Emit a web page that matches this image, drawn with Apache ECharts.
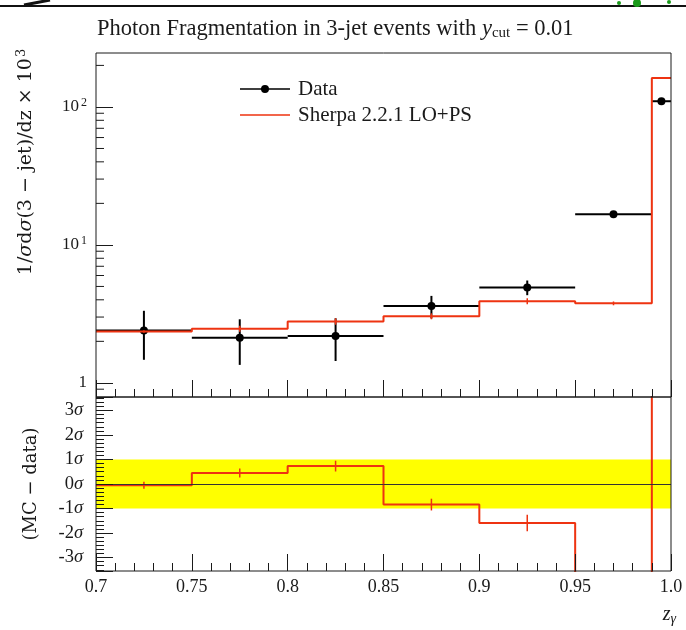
<!DOCTYPE html>
<html lang="en">
<head>
    <meta charset="UTF-8">
    <script src="https://cdn.jsdelivr.net/npm/echarts@6/dist/echarts.min.js"></script>
    <title>Photon Fragmentation</title>
    <style>
        html, body { margin: 0; padding: 0; background: #fff; }
        #container { width: 686px; height: 630px; }
    </style>
</head>
<body>
<div id="container"></div>
<script type="application/javascript">
    // bins in z_gamma
    const binLo = [0.7, 0.75, 0.8, 0.85, 0.9, 0.95, 0.99];
    const binHi = [0.75, 0.8, 0.85, 0.9, 0.95, 0.99, 1.0];
    // data points
    const dataVal = [2.40, 2.12, 2.19, 3.60, 4.92, 16.7, 110];
    const dataErr = [0.93, 0.77, 0.75, 0.67, 0.60, 0.7, 3];
    // Sherpa 2.2.1 LO+PS
    const mcVal = [2.36, 2.47, 2.79, 3.04, 3.91, 3.77, 162];
    const mcErr = [0.05, 0.12, 0.15, 0.15, 0.2, 0.12, 2];
    // (MC - data) in units of sigma, last two are off scale
    const ratioVal = [-0.05, 0.45, 0.73, -0.84, -1.59, -12, 13];
    const ratioErr = [0.14, 0.18, 0.22, 0.24, 0.34, 0, 0];
    // minor ticks of the log axis
    const logMinor = [0.9, 2, 3, 4, 5, 6, 7, 8, 9, 20, 30, 40, 50, 60, 70, 80, 90, 200];

    const xMin = 0.7, xMax = 1.0;
    const red = '#ee3311';
    const ink = '#1a1a1a';
    const serif = 'Liberation Serif';

    const centers = binLo.map((lo, i) => (lo + binHi[i]) / 2);
    const mcStep = binLo.map((lo, i) => [lo, mcVal[i]]).concat([[xMax, mcVal[mcVal.length - 1]]]);
    const ratioStep = binLo.map((lo, i) => [lo, ratioVal[i]]).concat([[xMax, ratioVal[ratioVal.length - 1]]]);
    const dataPts = centers.map((c, i) => [c, dataVal[i], binLo[i], binHi[i], dataErr[i]]);
    const mcTicks = centers.map((c, i) => [c, mcVal[i], mcErr[i]]);
    const ratioTicks = centers.map((c, i) => [c, ratioVal[i], ratioErr[i]]);

    const myChart = echarts.init(document.getElementById('container'), null, {renderer: 'canvas'});

    function vLine(api, x, y0, y1, color, w) {
        const a = api.coord([x, y0]);
        const b = api.coord([x, y1]);
        return {type: 'line', shape: {x1: a[0], y1: a[1], x2: b[0], y2: b[1]}, style: {stroke: color, lineWidth: w}};
    }

    const xAxisBase = {
        type: 'value', min: xMin, max: xMax, interval: 0.05, z: 5,
        axisLine: {show: false, onZero: false},
        axisTick: {inside: true, length: 17, lineStyle: {color: ink}},
        minorTick: {show: true, splitNumber: 5, length: 8, lineStyle: {color: ink}},
        splitLine: {show: false}
    };

    const option = {
        animation: false,
        textStyle: {fontFamily: serif},
        title: {
            text: 'Photon Fragmentation in 3-jet events with {i|y}{sub|cut} = 0.01',
            left: 92, top: 12,
            textStyle: {
                fontFamily: serif, fontSize: 22.5, fontWeight: 'normal', color: ink,
                rich: {
                    i: {fontFamily: serif, fontSize: 22.5, fontStyle: 'italic', color: ink},
                    sub: {fontFamily: serif, fontSize: 15, color: ink, padding: [9, 0, 0, 0]}
                }
            }
        },
        legend: {
            orient: 'vertical', left: 235, top: 73, itemGap: 4,
            itemWidth: 50, itemHeight: 8,
            textStyle: {fontFamily: serif, fontSize: 21, color: ink, lineHeight: 22, padding: [0, 0, 0, 3]},
            data: [
                {name: 'Data', icon: 'path://M0,3.2H50V4.8H0Z M21,4A4,4 0 1 1 29,4A4,4 0 1 1 21,4Z', itemStyle: {color: '#000'}},
                {name: 'Sherpa 2.2.1 LO+PS', icon: 'path://M0,3.25H50V4.75H0Z M0,0h0.01v0.01h-0.01z M50,8h-0.01v-0.01h0.01z', itemStyle: {color: red}}
            ]
        },
        grid: [
            {left: 96, right: 15, top: 53, height: 344, show: true, borderColor: ink, borderWidth: 1, z: 10, backgroundColor: 'transparent'},
            {left: 96, right: 15, top: 397, height: 174, show: true, borderColor: ink, borderWidth: 1, z: 10, backgroundColor: 'transparent'}
        ],
        xAxis: [
            Object.assign({}, xAxisBase, {gridIndex: 0, axisLabel: {show: false}}),
            Object.assign({}, xAxisBase, {
                gridIndex: 1,
                axisLabel: {
                    margin: 7, fontSize: 18, color: ink, fontFamily: serif,
                    formatter: v => (v === 1 ? '1.0' : String(v))
                }
            })
        ],
        yAxis: [
            {
                type: 'log', gridIndex: 0, min: 0.79, max: 246, z: 5,
                axisLine: {show: false, onZero: false},
                axisTick: {inside: true, length: 17, lineStyle: {color: ink}},
                splitLine: {show: false},
                axisLabel: {
                    margin: 9, color: ink, fontSize: 17, fontFamily: serif,
                    showMinLabel: false, showMaxLabel: false,
                    formatter: v => {
                        const e = Math.round(Math.log10(v));
                        return e === 0 ? '1' : '10{sup|' + e + '}';
                    },
                    rich: {sup: {fontSize: 12, fontFamily: serif, color: ink, verticalAlign: 'top', padding: [0, 0, 8, 2]}}
                }
            },
            {
                type: 'value', gridIndex: 1, min: -3.55, max: 3.55, z: 5,
                axisLine: {show: false, onZero: false},
                axisTick: {inside: true, length: 17, lineStyle: {color: ink}},
                minorTick: {show: true, splitNumber: 6, length: 8, lineStyle: {color: ink}},
                splitLine: {show: false},
                axisLabel: {
                    margin: 13, color: ink, fontSize: 18.5, fontFamily: serif,
                    showMinLabel: false, showMaxLabel: false,
                    formatter: v => v + '{s|σ}',
                    rich: {s: {fontSize: 18.5, fontStyle: 'italic', fontFamily: serif, color: ink}}
                }
            }
        ],
        graphic: [
            {type: 'line', shape: {x1: 0, y1: 6, x2: 686, y2: 6}, style: {stroke: '#111', lineWidth: 2}},
            {type: 'line', shape: {x1: 24, y1: 5, x2: 50, y2: 0}, style: {stroke: '#111', lineWidth: 3}},
            {type: 'circle', shape: {cx: 619, cy: 3, r: 2}, style: {fill: '#1a9a1a'}},
            {type: 'circle', shape: {cx: 637, cy: 3, r: 4}, style: {fill: '#1a9a1a'}},
            {type: 'circle', shape: {cx: 669, cy: 2, r: 2}, style: {fill: '#1a9a1a'}},
            {
                type: 'text', x: 26, y: 162, rotation: Math.PI / 2,
                style: {
                    text: '1/{i|σ}d{i|σ}(3 − jet)/dz × 10{sup|3}',
                    fontFamily: 'DejaVu Serif', fontSize: 19, fill: ink, align: 'center', verticalAlign: 'middle',
                    rich: {
                        i: {fontFamily: 'DejaVu Serif', fontSize: 19, fontStyle: 'italic', fill: ink},
                        sup: {fontFamily: 'DejaVu Serif', fontSize: 13, fill: ink, padding: [0, 0, 9, 1]}
                    }
                }
            },
            {
                type: 'text', x: 31, y: 484, rotation: Math.PI / 2,
                style: {
                    text: '(MC − data)', fontFamily: 'DejaVu Serif', fontSize: 18, fill: ink,
                    align: 'center', verticalAlign: 'middle'
                }
            },
            {
                type: 'text', x: 676, y: 603,
                style: {
                    text: '{i|z}{sub|γ}', align: 'right', fill: ink,
                    rich: {
                        i: {fontFamily: serif, fontSize: 20, fontStyle: 'italic', fill: ink},
                        sub: {fontFamily: serif, fontSize: 14, fontStyle: 'italic', fill: ink, padding: [9, 0, 0, 0]}
                    }
                }
            }
        ],
        series: [
            {
                name: 'logMinorTicks', type: 'custom', xAxisIndex: 0, yAxisIndex: 0, z: 6, silent: true,
                data: logMinor.map(v => [xMin, v]),
                encode: {x: 0, y: 1},
                renderItem: (params, api) => {
                    const p = api.coord([api.value(0), api.value(1)]);
                    return {type: 'line', shape: {x1: p[0], y1: p[1], x2: p[0] + 8, y2: p[1]}, style: {stroke: ink, lineWidth: 1}};
                }
            },
            {
                name: 'Data', type: 'custom', xAxisIndex: 0, yAxisIndex: 0, z: 3,
                itemStyle: {color: '#000'},
                data: dataPts,
                encode: {x: 0, y: 1},
                renderItem: (params, api) => {
                    const c = api.value(0), v = api.value(1), e = api.value(4);
                    const l = api.coord([api.value(2), v]);
                    const r = api.coord([api.value(3), v]);
                    const p = api.coord([c, v]);
                    return {
                        type: 'group',
                        children: [
                            {type: 'line', shape: {x1: l[0], y1: l[1], x2: r[0], y2: r[1]}, style: {stroke: '#000', lineWidth: 2}},
                            vLine(api, c, v - e, v + e, '#000', 2),
                            {type: 'circle', shape: {cx: p[0], cy: p[1], r: 4}, style: {fill: '#000'}}
                        ]
                    };
                }
            },
            {
                name: 'Sherpa 2.2.1 LO+PS', type: 'line', xAxisIndex: 0, yAxisIndex: 0, z: 4,
                step: 'end', symbol: 'none', data: mcStep,
                lineStyle: {color: red, width: 2}, itemStyle: {color: red}
            },
            {
                name: 'mcErr', type: 'custom', xAxisIndex: 0, yAxisIndex: 0, z: 4, silent: true,
                data: mcTicks, encode: {x: 0, y: 1},
                renderItem: (params, api) => vLine(api, api.value(0), api.value(1) - api.value(2), api.value(1) + api.value(2), red, 1.5)
            },
            {
                name: 'band', type: 'line', xAxisIndex: 1, yAxisIndex: 1, z: 1, silent: true,
                symbol: 'none', data: ratioStep, lineStyle: {opacity: 0},
                markArea: {
                    silent: true, itemStyle: {color: '#ffff00'},
                    data: [[{yAxis: -1}, {yAxis: 1}]]
                }
            },
            {
                name: 'zero', type: 'line', xAxisIndex: 1, yAxisIndex: 1, z: 2, silent: true,
                symbol: 'none', data: ratioStep, lineStyle: {opacity: 0},
                markLine: {
                    silent: true, symbol: 'none', label: {show: false},
                    lineStyle: {color: '#333', width: 1, type: 'solid'},
                    data: [{yAxis: 0}]
                }
            },
            {
                name: 'ratio', type: 'line', xAxisIndex: 1, yAxisIndex: 1, z: 4,
                step: 'end', symbol: 'none', data: ratioStep,
                lineStyle: {color: red, width: 2}
            },
            {
                name: 'ratioErr', type: 'custom', xAxisIndex: 1, yAxisIndex: 1, z: 4, silent: true,
                data: ratioTicks, encode: {x: 0, y: 1},
                renderItem: (params, api) => {
                    if (api.value(2) === 0) return null;
                    return vLine(api, api.value(0), api.value(1) - api.value(2), api.value(1) + api.value(2), red, 1.5);
                }
            }
        ]
    };

    myChart.setOption(option);
</script>
</body>
</html>
